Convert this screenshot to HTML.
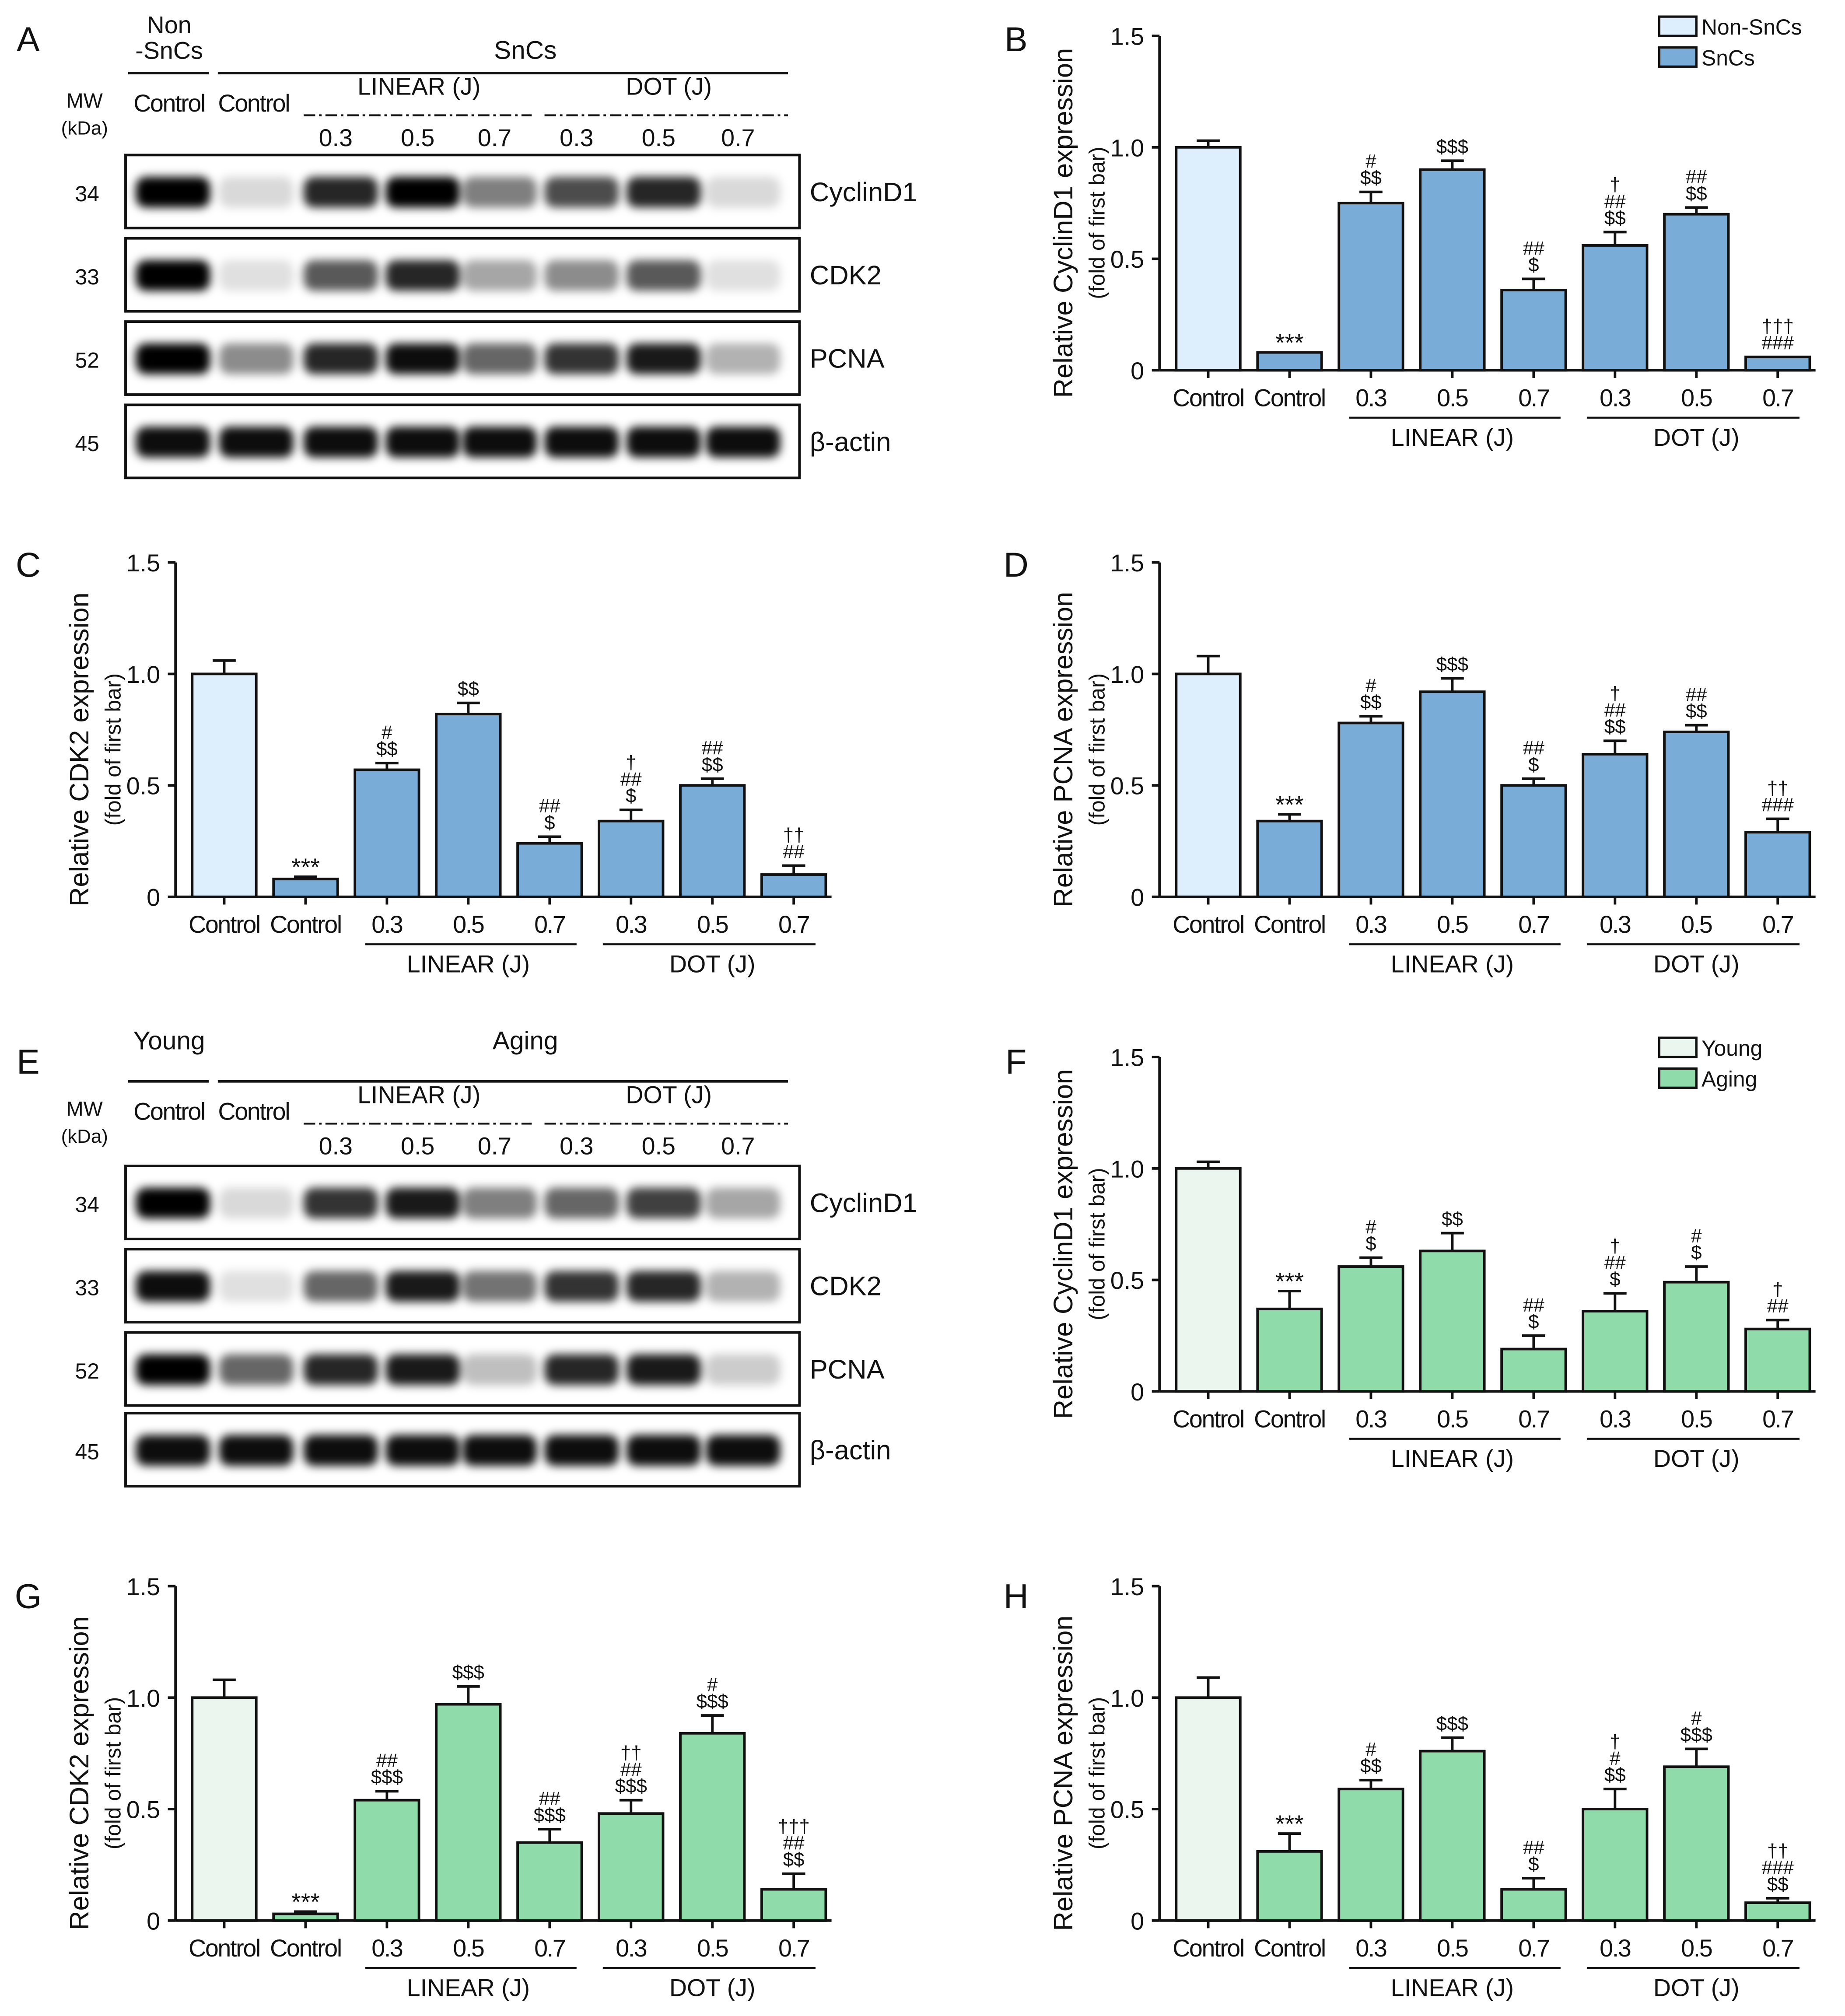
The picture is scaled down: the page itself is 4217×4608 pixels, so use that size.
<!DOCTYPE html>
<html><head><meta charset="utf-8">
<style>
html,body{margin:0;padding:0;background:#fff;}
svg{display:block;font-family:"Liberation Sans",Arial,sans-serif;}
</style></head>
<body>
<svg id="fig" width="4217" height="4608" viewBox="0 0 1440 1573.5" preserveAspectRatio="none" xmlns="http://www.w3.org/2000/svg">
<defs><filter id="blur" x="-30%" y="-80%" width="160%" height="260%"><feGaussianBlur stdDeviation="3.5"/></filter></defs>
</svg>
<script>
// ---- data ----
const categories = ["Control","Control","0.3","0.5","0.7","0.3","0.5","0.7"];
const yTicks = [0,0.5,1.0,1.5];
const yTickLabels = ["0","0.5","1.0","1.5"];
const valuesB = [1.0,0.08,0.75,0.90,0.36,0.56,0.70,0.06];
const errB    = [0.03,0.0,0.05,0.04,0.05,0.06,0.03,0.0];
const annB    = [[],["***"],["#","$$"],["$$$"],["##","$"],["†","##","$$"],["##","$$"],["†††","###"]];
const valuesC = [1.0,0.08,0.57,0.82,0.24,0.34,0.50,0.10];
const errC    = [0.06,0.01,0.03,0.05,0.03,0.05,0.03,0.04];
const annC    = [[],["***"],["#","$$"],["$$"],["##","$"],["†","##","$"],["##","$$"],["††","##"]];
const valuesD = [1.0,0.34,0.78,0.92,0.50,0.64,0.74,0.29];
const errD    = [0.08,0.03,0.03,0.06,0.03,0.06,0.03,0.06];
const annD    = [[],["***"],["#","$$"],["$$$"],["##","$"],["†","##","$$"],["##","$$"],["††","###"]];
const valuesF = [1.0,0.37,0.56,0.63,0.19,0.36,0.49,0.28];
const errF    = [0.03,0.08,0.04,0.08,0.06,0.08,0.07,0.04];
const annF    = [[],["***"],["#","$"],["$$"],["##","$"],["†","##","$"],["#","$"],["†","##"]];
const valuesG = [1.0,0.03,0.54,0.97,0.35,0.48,0.84,0.14];
const errG    = [0.08,0.01,0.04,0.08,0.06,0.06,0.08,0.07];
const annG    = [[],["***"],["##","$$$"],["$$$"],["##","$$$"],["††","##","$$$"],["#","$$$"],["†††","##","$$"]];
const valuesH = [1.0,0.31,0.59,0.76,0.14,0.50,0.69,0.08];
const errH    = [0.09,0.08,0.04,0.06,0.05,0.09,0.08,0.02];
const annH    = [[],["***"],["#","$$"],["$$$"],["##","$"],["†","#","$$"],["#","$$$"],["††","###","$$"]];
const blotA_cyclin = [1,0.15,0.85,1,0.5,0.7,0.85,0.15];
const blotA_cdk2   = [1,0.12,0.65,0.85,0.35,0.45,0.65,0.12];
const blotA_pcna   = [1,0.45,0.85,0.95,0.6,0.8,0.9,0.3];
const blotA_actin  = [0.95,0.95,0.95,0.95,0.95,0.95,0.95,0.95];
const blotE_cyclin = [1,0.15,0.8,0.9,0.5,0.6,0.75,0.35];
const blotE_cdk2   = [0.95,0.12,0.6,0.9,0.55,0.8,0.85,0.3];
const blotE_pcna   = [1,0.6,0.85,0.9,0.25,0.85,0.9,0.2];
const blotE_actin  = [0.95,0.95,0.95,0.95,0.95,0.95,0.95,0.95];

const NS="http://www.w3.org/2000/svg";
const svg=document.getElementById('fig');
function mk(tag,attrs,parent,text){const e=document.createElementNS(NS,tag);for(const k in attrs)e.setAttribute(k,attrs[k]);if(text!==undefined)e.textContent=text;(parent||svg).appendChild(e);return e;}
function txt(x,y,s,size,parent,anchor,extra){const t=mk('text',Object.assign({x:x,y:y,'font-size':size,'text-anchor':anchor||'middle',fill:'#111'},extra||{}),parent,s);return t;}

function chart(name,ax,y0,vals,errs,anns,c1,c2,title,legend){
  const g=mk('g',{},svg);
  
  
  const ytop=y0-261, scale=261/1.5;
  const yS=v=>y0-v*scale;
  const xS=i=>ax+38+i*63.5;
  const yax=mk('line',{x1:ax,y1:ytop,x2:ax,y2:y0,stroke:'#111','stroke-width':2},g);
  
  
  const xax=mk('line',{x1:ax,y1:y0,x2:ax+512,y2:y0,stroke:'#111','stroke-width':2},g);
  
  
  yTicks.forEach((v,i)=>{
    mk('line',{x1:ax-6,y1:yS(v),x2:ax,y2:yS(v),stroke:'#111','stroke-width':2},g);
    const t=txt(ax-12,yS(v)+7,yTickLabels[i],19,g,'end');
    
    
  });
  vals.forEach((v,i)=>{
    const cx=xS(i);
    const b=mk('rect',{x:cx-25,y:yS(v),width:50,height:v*scale,fill:i==0?c1:c2,stroke:'#111','stroke-width':2},g);
    
    
    const top=yS(v+errs[i]);
    if(errs[i]>0){
      mk('line',{x1:cx,y1:yS(v),x2:cx,y2:top,stroke:'#111','stroke-width':2},g);
      mk('line',{x1:cx-9,y1:top,x2:cx+9,y2:top,stroke:'#111','stroke-width':2},g);
    }
    const lines=anns[i];
    lines.forEach((s,k)=>{
      const yy=top-6-(lines.length-1-k)*13;
      const a=txt(cx,yy+(s==='***'?5:0),s,s==='***'?19:15,g,'middle');
      
      
    });
    mk('line',{x1:cx,y1:y0,x2:cx,y2:y0+6,stroke:'#111','stroke-width':2},g);
    const lab=txt(cx,y0+28,categories[i],19,g,'middle',{'letter-spacing':'-0.8'});
    
    
  });
  const gl=y0+37;
  mk('line',{x1:xS(2)-17,y1:gl,x2:xS(4)+21,y2:gl,stroke:'#111','stroke-width':1.5},g);
  mk('line',{x1:xS(5)-22,y1:gl,x2:xS(7)+17,y2:gl,stroke:'#111','stroke-width':1.5},g);
  const l1=txt(xS(3),gl+22,'LINEAR (J)',19,g);
  
  
  const l2=txt(xS(6),gl+22,'DOT (J)',19,g);
  
  
  const cy=y0-115;
  const t1=txt(0,0,title,21,g,'middle',{transform:`translate(${ax-68},${cy}) rotate(-90)`});
  
  
  const t2=txt(0,0,'(fold of first bar)',17,g,'middle',{transform:`translate(${ax-43},${cy}) rotate(-90)`});
  
  
  if(legend){
    const lg=mk('g',{},g);
    
    
    [[c1,legend[0]],[c2,legend[1]]].forEach((p,k)=>{
      const yy=ytop-15+k*24;
      mk('rect',{x:ax+390,y:yy,width:29,height:15,fill:p[0],stroke:'#111','stroke-width':1.8},lg);
      const e=txt(ax+423,yy+14,p[1],17,lg,'start');
      
      
    });
  }
}

function blot(name,y0,rowsY,bands,labels,mws,headerLeft,headerRight,isA){
  const g=mk('g',{},svg);
  
  
  const lanes=[135,200,266,330,390,454,518,580];
  rowsY.forEach((ry,r)=>{
    const row=mk('g',{},g);
    
    
    mk('rect',{x:98,y:ry,width:526,height:57,fill:'#fff',stroke:'#111','stroke-width':2},row);
    bands[r].forEach((v,i)=>{
      mk('rect',{x:lanes[i]-29,y:ry+17,width:58,height:24,rx:8,fill:'#000','fill-opacity':v,filter:'url(#blur)'},row);
    });
    txt(632,ry+36,labels[r],21,g,'start');
    txt(68,ry+36,mws[r],17,g,'middle');
  });
  const h=y0;
  if(isA){
    txt(132,h+2,'Non',19,g);txt(132,h+22,'-SnCs',19,g);
  } else {
    txt(132,h+8,'Young',20,g);
  }
  txt(410,h+ (isA?22:8),headerRight,20,g);
  mk('line',{x1:100,y1:h+33,x2:163,y2:h+33,stroke:'#111','stroke-width':2},g);
  mk('line',{x1:170,y1:h+33,x2:615,y2:h+33,stroke:'#111','stroke-width':2},g);
  txt(66,h+60,'MW',16,g);txt(66,h+81,'(kDa)',15,g);
  txt(132,h+63,'Control',19,g,'middle',{'letter-spacing':'-0.8'});
  txt(198,h+63,'Control',19,g,'middle',{'letter-spacing':'-0.8'});
  txt(327,h+50,'LINEAR (J)',19,g);
  txt(522,h+50,'DOT (J)',19,g);
  mk('line',{x1:237,y1:h+66,x2:415,y2:h+66,stroke:'#111','stroke-width':1.5,'stroke-dasharray':'9 3 2 3'},g);
  mk('line',{x1:425,y1:h+66,x2:615,y2:h+66,stroke:'#111','stroke-width':1.5,'stroke-dasharray':'9 3 2 3'},g);
  ['0.3','0.5','0.7','0.3','0.5','0.7'].forEach((s,i)=>txt(lanes[i+2]-4,h+90,s,19,g));
}

[['A',22,40],['B',793,40],['C',22,450],['D',793,450],['E',22,838],['F',793,838],['G',22,1255],['H',793,1255]].forEach(p=>{
  const t=txt(p[1],p[2],p[0],27,svg,'middle');
  
  
});

blot('western-blot-a',24,[121,186,251,316],[blotA_cyclin,blotA_cdk2,blotA_pcna,blotA_actin],['CyclinD1','CDK2','PCNA','β-actin'],['34','33','52','45'],'Non-SnCs','SnCs',true);
blot('western-blot-e',811,[910,975,1040,1103],[blotE_cyclin,blotE_cdk2,blotE_pcna,blotE_actin],['CyclinD1','CDK2','PCNA','β-actin'],['34','33','52','45'],'Young','Aging',false);

const B1='#ddeefc',B2='#7aacd8',G1='#eaf6ee',G2='#8fdcaa';
chart('chart-b-cyclind1-sncs',905,289,valuesB,errB,annB,B1,B2,'Relative CyclinD1 expression',['Non-SnCs','SnCs']);
chart('chart-c-cdk2-sncs',137,700,valuesC,errC,annC,B1,B2,'Relative CDK2 expression',null);
chart('chart-d-pcna-sncs',905,700,valuesD,errD,annD,B1,B2,'Relative PCNA expression',null);
chart('chart-f-cyclind1-aging',905,1086,valuesF,errF,annF,G1,G2,'Relative CyclinD1 expression',['Young','Aging']);
chart('chart-g-cdk2-aging',137,1499,valuesG,errG,annG,G1,G2,'Relative CDK2 expression',null);
chart('chart-h-pcna-aging',905,1499,valuesH,errH,annH,G1,G2,'Relative PCNA expression',null);
</script>
</body></html>
